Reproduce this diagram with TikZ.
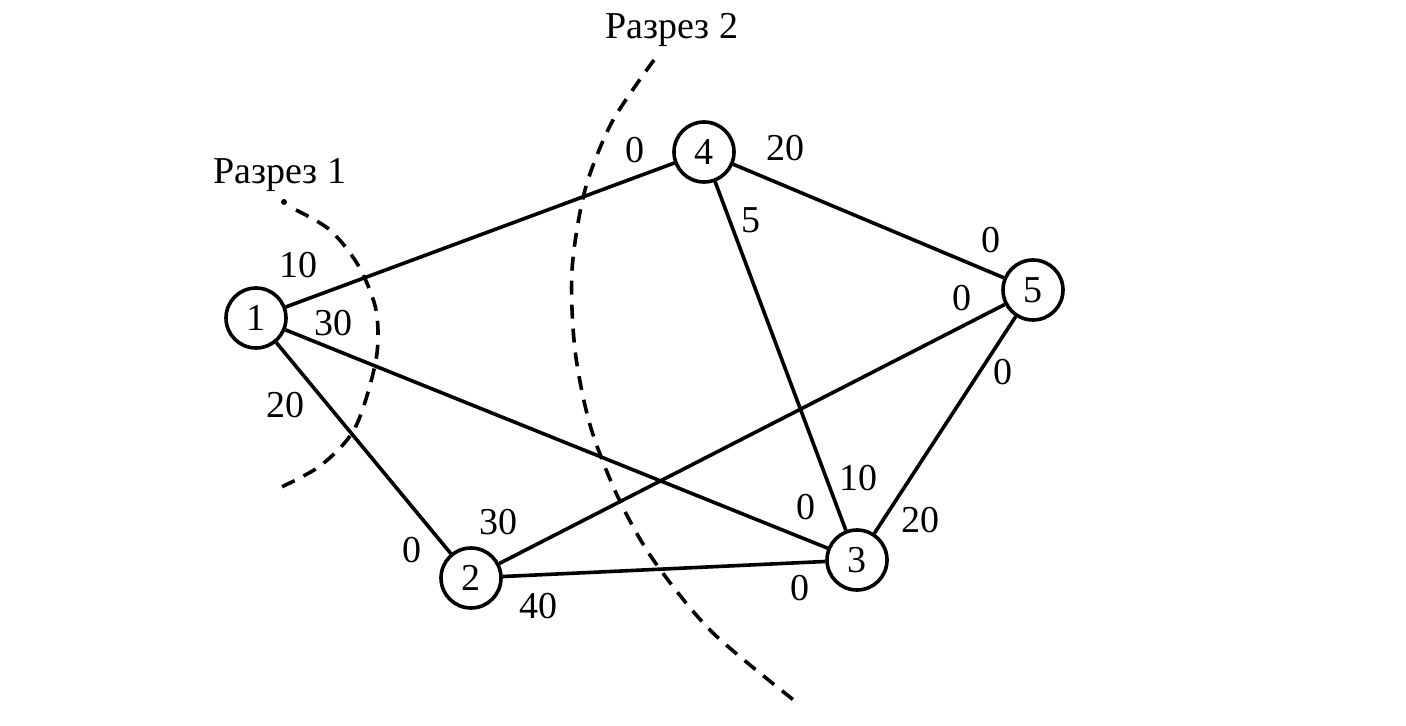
\documentclass[tikz,border=0pt]{standalone}
\usepackage{fontspec}
\setmainfont{Liberation Serif}
\begin{document}
\begin{tikzpicture}[x=0.5pt,y=-0.5pt,
        vert/.style={draw, circle, line width=1.8pt, minimum size=30pt, inner sep=0pt, font=\fontsize{19}{21}\selectfont},
        edge/.style={line width=1.8pt},
        cut/.style={line width=1.8pt, dash pattern=on 7pt off 5pt},
        lbl/.style={font=\fontsize{19}{21}\selectfont, inner sep=0pt}]
       \useasboundingbox (0,0) rectangle (1406,726);
       
       %vertices
       \node[vert] (n1) at (256,318) {1};
       \node[vert] (n2) at (471,578) {2};
       \node[vert] (n3) at (857,560) {3};
       \node[vert] (n4) at (704,152) {4};
       \node[vert] (n5) at (1033,290) {5};
       
       %edges
       \draw[edge] (n1)--(n4);
       \draw[edge] (n1)--(n3);
       \draw[edge] (n1)--(n2);
       \draw[edge] (n4)--(n5);
       \draw[edge] (n4)--(n3);
       \draw[edge] (n2)--(n5);
       \draw[edge] (n2)--(n3);
       \draw[edge] (n3)--(n5);
       
       %cuts
       \fill (284,202) circle (1.5pt);
       \draw[cut] plot[smooth] coordinates {(296,210) (330,230) (358,265) (376,310) (376,360) (355,428) (320,466) (275,490)};
       \draw[cut] plot[smooth] coordinates {(654,60) (612,122) (585,190) (572,270) (575,350) (590,425) (617,495) (652,558) (712,632) (800,705)};
       \node[lbl] (c1) at (280,175) {Разрез 1};
       \node[lbl] (c2) at (672,30) {Разрез 2};
       
       %capacities
       \node[lbl] (w14) at (298,265) {10};
       \node[lbl] (w13) at (333,323) {30};
       \node[lbl] (w12) at (285,405) {20};
       \node[lbl] (w41) at (635,150) {0};
       \node[lbl] (w45) at (785,148) {20};
       \node[lbl] (w43) at (751,220) {5};
       \node[lbl] (w54) at (991,240) {0};
       \node[lbl] (w52) at (962,298) {0};
       \node[lbl] (w53) at (1003,372) {0};
       \node[lbl] (w34) at (858,478) {10};
       \node[lbl] (w35) at (920,520) {20};
       \node[lbl] (w31) at (806,507) {0};
       \node[lbl] (w32) at (800,588) {0};
       \node[lbl] (w23) at (538,606) {40};
       \node[lbl] (w21) at (412,550) {0};
       \node[lbl] (w25) at (498,522) {30};
\end{tikzpicture}
\end{document}
